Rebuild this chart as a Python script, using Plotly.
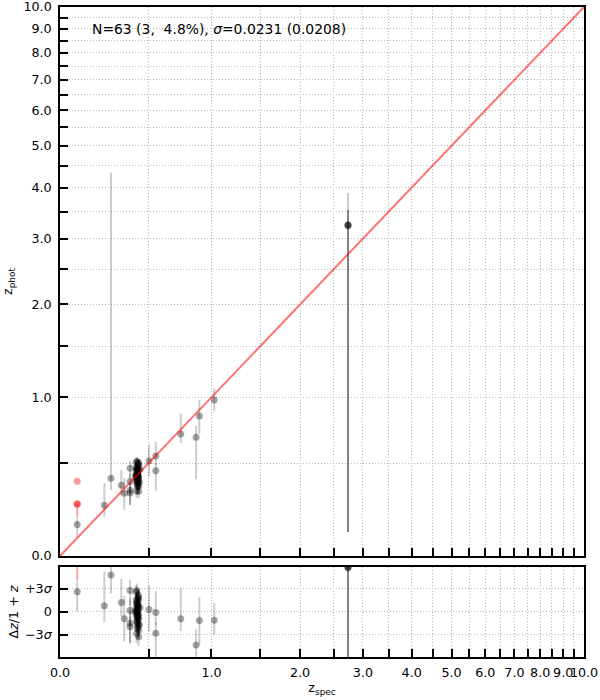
import math
import plotly.graph_objects as go

# ---------------- data ----------------
# non-outlier galaxies: spectroscopic z, photometric z, upper / lower errors on z_phot
zspec = [
    0.082, 0.225, 0.263, 0.324, 0.342, 0.378, 0.378, 0.378, 0.378, 0.436,
    0.442, 0.503, 0.550, 0.550, 0.738, 0.864, 0.892, 1.026, 2.736, 2.736,
    2.736,
    0.412, 0.415, 0.418, 0.420, 0.421, 0.422, 0.423, 0.424, 0.425, 0.425,
    0.426, 0.427, 0.428, 0.428, 0.429, 0.430, 0.430, 0.431, 0.432, 0.433,
    0.418, 0.420, 0.422, 0.424, 0.426, 0.428, 0.430, 0.432, 0.434, 0.436,
    0.419, 0.423, 0.427, 0.429, 0.431, 0.425, 0.421, 0.433, 0.417,
]
zphot = [
    0.148, 0.248, 0.404, 0.362, 0.315, 0.467, 0.384, 0.331, 0.317, 0.383,
    0.460, 0.514, 0.548, 0.451, 0.703, 0.679, 0.844, 0.976, 3.240, 3.230,
    3.250,
    0.412, 0.429, 0.401, 0.456, 0.381, 0.429, 0.416, 0.450, 0.399, 0.471,
    0.376, 0.487, 0.364, 0.431, 0.446, 0.416, 0.462, 0.400, 0.504, 0.354,
    0.503, 0.328, 0.462, 0.381, 0.437, 0.417, 0.452, 0.411, 0.489, 0.379,
    0.423, 0.420, 0.456, 0.400, 0.495, 0.354, 0.513, 0.326, 0.467,
]
err_hi = [
    0.035, 0.127, 3.930, 0.094, 0.091, 0.045, 0.050, 0.050, 0.040, 0.050,
    0.040, 0.110, 0.100, 0.050, 0.160, 0.086, 0.132, 0.104, 0.640, 0.300,
    0.280,
    0.030, 0.025, 0.035, 0.040, 0.030, 0.028, 0.032, 0.036, 0.030, 0.040,
    0.035, 0.030, 0.040, 0.025, 0.030, 0.034, 0.036, 0.030, 0.028, 0.040,
    0.030, 0.035, 0.030, 0.045, 0.025, 0.030, 0.033, 0.030, 0.035, 0.038,
    0.025, 0.030, 0.028, 0.036, 0.030, 0.040, 0.030, 0.035, 0.030,
]
err_lo = [
    0.064, 0.061, 0.070, 0.057, 0.092, 0.060, 0.060, 0.080, 0.070, 0.050,
    0.040, 0.100, 0.060, 0.120, 0.065, 0.281, 0.140, 0.090, 3.130, 3.120,
    3.140,
    0.030, 0.028, 0.035, 0.038, 0.032, 0.030, 0.030, 0.036, 0.034, 0.035,
    0.040, 0.030, 0.045, 0.028, 0.030, 0.034, 0.036, 0.032, 0.028, 0.040,
    0.030, 0.040, 0.030, 0.045, 0.028, 0.030, 0.033, 0.030, 0.035, 0.040,
    0.025, 0.030, 0.030, 0.036, 0.030, 0.045, 0.030, 0.040, 0.030,
]

# catastrophic outliers
out_zspec = [0.082, 0.082, 0.082]
out_zphot = [0.255, 0.255, 0.386]
out_err_hi = [0.0, 0.0, 0.0]
out_err_lo = [0.070, 0.0, 0.0]

sigma = 0.0231
one_to_one = [0.0, 10.0]

tick_z = [0.0, 0.5, 1.0, 1.5, 2.0, 2.5, 3.0, 3.5, 4.0, 4.5, 5.0,
          5.5, 6.0, 6.5, 7.0, 7.5, 8.0, 8.5, 9.0, 9.5, 10.0]
tick_text = ["0.0", "", "1.0", "", "2.0", "", "3.0", "", "4.0", "", "5.0",
             "", "6.0", "", "7.0", "", "8.0", "", "9.0", "", "10.0"]
resid_ticks = [-3, 0, 3]
resid_text = ["\u22123<i>\u03c3</i>", "0", "+3<i>\u03c3</i>"]
stats_text = "N=63 (3,\u00a0\u00a04.8%), <i>\u03c3</i>=0.0231 (0.0208)"

# ---------------- derived quantities ----------------
def p1(a):
    return [1.0 + v for v in a]

dz = [(p - s) / (1 + s) for s, p in zip(zspec, zphot)]
dz_hi = [e / (1 + s) for s, e in zip(zspec, err_hi)]
dz_lo = [e / (1 + s) for s, e in zip(zspec, err_lo)]
odz = [(p - s) / (1 + s) for s, p in zip(out_zspec, out_zphot)]
odz_hi = [e / (1 + s) for s, e in zip(out_zspec, out_err_hi)]
odz_lo = [e / (1 + s) for s, e in zip(out_zspec, out_err_lo)]

GRAY_M = "rgba(0,0,0,0.35)"
GRAY_E = "rgba(0,0,0,0.2)"
RED_M = "rgba(255,0,0,0.4)"
RED_E = "rgba(255,0,0,0.35)"
MS = 7

fig = go.Figure()

# top panel
fig.add_trace(go.Scatter(
    x=p1(zspec), y=p1(zphot), mode="markers",
    marker=dict(color=GRAY_M, size=MS, line=dict(width=0)),
    error_y=dict(type="data", symmetric=False, array=err_hi, arrayminus=err_lo,
                 color=GRAY_E, thickness=2, width=0),
    xaxis="x", yaxis="y", showlegend=False))
fig.add_trace(go.Scatter(
    x=p1(one_to_one), y=p1(one_to_one), mode="lines",
    line=dict(color="rgba(255,0,0,0.55)", width=2),
    xaxis="x", yaxis="y", showlegend=False))
fig.add_trace(go.Scatter(
    x=p1(out_zspec), y=p1(out_zphot), mode="markers",
    marker=dict(color=RED_M, size=MS, line=dict(width=0)),
    error_y=dict(type="data", symmetric=False, array=out_err_hi, arrayminus=out_err_lo,
                 color=RED_E, thickness=2, width=0),
    xaxis="x", yaxis="y", showlegend=False))

# bottom panel
fig.add_trace(go.Scatter(
    x=p1(zspec), y=dz, mode="markers",
    marker=dict(color=GRAY_M, size=MS, line=dict(width=0)),
    error_y=dict(type="data", symmetric=False, array=dz_hi, arrayminus=dz_lo,
                 color=GRAY_E, thickness=2, width=0),
    xaxis="x2", yaxis="y2", showlegend=False))
fig.add_trace(go.Scatter(
    x=p1(out_zspec), y=odz, mode="markers",
    marker=dict(color=RED_M, size=MS, line=dict(width=0)),
    error_y=dict(type="data", symmetric=False, array=odz_hi, arrayminus=odz_lo,
                 color=RED_E, thickness=2, width=0),
    xaxis="x2", yaxis="y2", showlegend=False))

FONT = dict(family="DejaVu Sans", size=12.7, color="black")
ANN_FONT = dict(family="DejaVu Sans", size=13.9, color="black")
logrange = [0, math.log10(11)]
common = dict(
    showline=True, linecolor="black", linewidth=1.5, mirror=True,
    ticks="inside", ticklen=8, tickwidth=1.5, tickcolor="black",
    showgrid=True, gridcolor="#b8b8b8", gridwidth=1, griddash="1px,2px",
    zeroline=False, tickfont=FONT, tickangle=0, automargin=False,
)

fig.update_layout(
    width=600, height=700,
    margin=dict(l=60, r=16, t=7, b=43),
    paper_bgcolor="white", plot_bgcolor="white",
    font=FONT,
    xaxis=dict(type="log", range=logrange, domain=[0, 1], anchor="y",
               tickmode="array", tickvals=p1(tick_z), ticktext=tick_text,
               showticklabels=False, **common),
    yaxis=dict(type="log", range=logrange, domain=[0.1554, 1], anchor="x",
               tickmode="array", tickvals=p1(tick_z), ticktext=tick_text,
               ticklabelstandoff=4,
               title=dict(text="z<sub>phot</sub>", font=FONT, standoff=10),
               **common),
    xaxis2=dict(type="log", range=logrange, domain=[0, 1], anchor="y2",
                tickmode="array", tickvals=p1(tick_z), ticktext=tick_text,
                ticklabelstandoff=3,
                title=dict(text="z<sub>spec</sub>", font=FONT, standoff=4),
                **common),
    yaxis2=dict(range=[-0.1356, 0.1356], domain=[0, 0.1385], anchor="x2",
                tickmode="array", tickvals=[t * sigma for t in resid_ticks],
                ticktext=resid_text, ticklabelstandoff=4,
                title=dict(text="\u0394<i>z</i>/1 + <i>z</i>", font=FONT, standoff=4),
                **common),
    annotations=[dict(text=stats_text, xref="x domain", yref="y domain",
                      x=0.0573, y=0.96, xanchor="left", yanchor="middle",
                      showarrow=False, font=ANN_FONT)],
)

fig.write_html("out.html",
               config={"displayModeBar": False},
               post_script="document.body.style.margin='0';document.body.style.overflow='hidden';")
